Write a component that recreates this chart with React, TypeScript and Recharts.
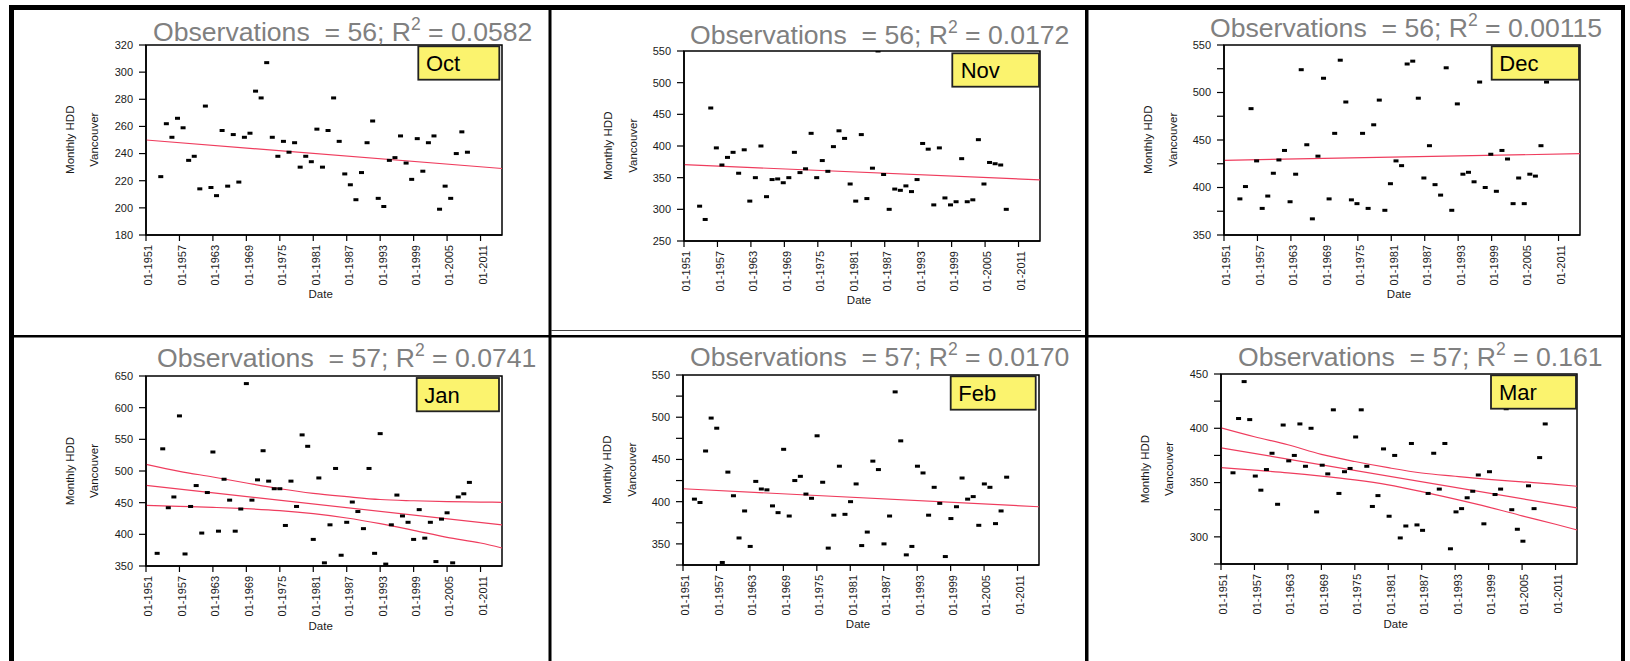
import React from 'react';
import { ComposedChart, Scatter, Line, XAxis, YAxis, ReferenceArea } from 'recharts';

const FONT = '"Liberation Sans", Arial, Helvetica, sans-serif';
const RED = '#ef3d5e';

// ---------- data ----------
const xTickYears = [1951, 1957, 1963, 1969, 1975, 1981, 1987, 1993, 1999, 2005, 2011];
const xDomain: [number, number] = [1951, 2014.85];

// Monthly HDD Vancouver, October 1953-2008
const octValues = [223, 262, 252, 266, 259, 235, 238, 214, 275, 215, 209, 257, 216, 254, 219, 252, 255, 286, 281, 307, 252, 238, 249, 241, 248, 230, 238, 234, 258, 230, 257, 281, 249, 225, 217, 206, 226, 248, 264, 207, 201, 235, 237, 253, 233, 221, 251, 227, 248, 253, 199, 216, 207, 240, 256, 241];
// November 1953-2008
const novValues = [305, 284, 460, 397, 370, 382, 390, 357, 394, 313, 350, 400, 320, 347, 348, 342, 350, 390, 358, 364, 420, 350, 377, 360, 399, 424, 412, 340, 313, 418, 317, 365, 550, 355, 300, 332, 330, 337, 328, 347, 404, 395, 307, 397, 318, 307, 312, 380, 312, 315, 410, 340, 374, 372, 370, 300];
// December 1953-2008
const decValues = [388, 401, 483, 428, 378, 391, 415, 429, 439, 385, 414, 524, 445, 367, 433, 515, 388, 457, 534, 490, 387, 383, 457, 378, 466, 492, 376, 404, 428, 423, 530, 533, 494, 410, 444, 403, 392, 526, 376, 488, 414, 416, 406, 511, 400, 435, 396, 439, 430, 383, 410, 383, 414, 412, 444, 511];
// January 1953-2009
const janValues = [370, 535, 442, 459, 587, 369, 444, 477, 402, 466, 530, 405, 487, 454, 405, 440, 638, 454, 486, 532, 484, 472, 472, 414, 484, 444, 557, 539, 392, 489, 355, 415, 504, 367, 419, 451, 436, 409, 504, 370, 559, 353, 415, 462, 429, 419, 392, 439, 394, 419, 357, 424, 434, 355, 459, 464, 482];
// February 1953-2009
const febValues = [403, 399, 460, 499, 487, 328, 435, 407, 357, 389, 347, 424, 415, 414, 395, 387, 462, 383, 425, 430, 409, 404, 478, 423, 345, 384, 442, 385, 400, 421, 348, 364, 448, 438, 350, 383, 530, 472, 337, 347, 442, 434, 384, 417, 398, 335, 380, 394, 428, 403, 406, 372, 421, 417, 374, 389, 429];
// March 1953-2009
const marValues = [359, 409, 443, 408, 356, 343, 362, 377, 330, 403, 370, 375, 404, 365, 400, 323, 366, 358, 417, 340, 360, 363, 392, 417, 365, 328, 338, 381, 319, 375, 299, 310, 386, 311, 306, 340, 377, 344, 386, 289, 323, 326, 336, 342, 357, 312, 360, 339, 344, 418, 325, 307, 296, 347, 326, 373, 404];

// fitted lines (end points)
const fitYears = [1951, 2014.85];
const octFit = [250, 229];
const novFit = [370.5, 346.5];
const decFit = [428.6, 435.6];
const febFit = [415.3, 394];
const janFit = [477.4, 414.8];
const marFit = [382, 326.6];

// confidence bands
const bandYears = [1951, 1957, 1963, 1969, 1975, 1981, 1987, 1993, 1999, 2005, 2011, 2014.85];
const janUpper = [510.5, 499.5, 490.5, 481, 472, 464.7, 459.5, 455, 453, 451.6, 451, 450.5];
const janLower = [445.8, 444.3, 442.6, 440.5, 437.4, 432.6, 425.8, 416.8, 406.3, 395.3, 386.3, 378.4];
const marUpper = [400.4, 392.2, 384.8, 376, 369.4, 363.7, 358.8, 355.8, 353, 350.7, 348.4, 346.6];
const marLower = [363.7, 361.4, 359, 356, 352.4, 347.8, 341.6, 334.7, 327.4, 319.4, 311.6, 306.4];

// y axes
const octYTicks = [180, 200, 220, 240, 260, 280, 300, 320];
const novYTicks = [250, 300, 350, 400, 450, 500, 550];
const decYTicks = [350, 375, 400, 425, 450, 475, 500, 525, 550];
const janYTicks = [350, 400, 450, 500, 550, 600, 650];
const febYTicks = [325, 350, 375, 400, 425, 450, 475, 500, 525, 550];
const marYTicks = [275, 300, 325, 350, 375, 400, 425, 450];
const octYLabels = octYTicks;
const novYLabels = novYTicks;
const decYLabels = [350, 400, 450, 500, 550];
const janYLabels = janYTicks;
const febYLabels = [350, 400, 450, 500, 550];
const marYLabels = [300, 350, 400, 450];

const months = ['Oct', 'Nov', 'Dec', 'Jan', 'Feb', 'Mar'];
const observations = [56, 56, 56, 57, 57, 57];
const r2Values = ['0.0582', '0.0172', '0.00115', '0.0741', '0.0170', '0.161'];

// ---------- layout ----------
const YW = 110;
const MT = 10;
const MR = 10;
const XH = 72;
const PLOT_W = 356;
const PLOT_H = 190;

type Series = { xs: number[]; ys: number[]; curved?: boolean };
type Cfg = {
  values: number[];
  firstYear: number;
  monthPos: number;
  yDomain: [number, number];
  yTicks: number[];
  yLabels: number[];
  lines: Series[];
  plotLeft: number;
  plotTop: number;
  titleX: number;
  titleY: number;
  box: { x: number; y: number; w: number; h: number; tx: number };
};

const panels: Cfg[] = [
  { values: octValues, firstYear: 1953, monthPos: 0.65, yDomain: [180, 320], yTicks: octYTicks, yLabels: octYLabels,
    lines: [{ xs: fitYears, ys: octFit }], plotLeft: 145.7, plotTop: 44.7, titleX: 153, titleY: 40.5,
    box: { x: 418.3, y: 46.3, w: 81, h: 33.4, tx: 426 } },
  { values: novValues, firstYear: 1953, monthPos: 0.8, yDomain: [250, 550], yTicks: novYTicks, yLabels: novYLabels,
    lines: [{ xs: fitYears, ys: novFit }], plotLeft: 684, plotTop: 50.7, titleX: 690, titleY: 44,
    box: { x: 952.3, y: 53.3, w: 86.7, h: 33.4, tx: 960.7 } },
  { values: decValues, firstYear: 1953, monthPos: 0.85, yDomain: [350, 550], yTicks: decYTicks, yLabels: decYLabels,
    lines: [{ xs: fitYears, ys: decFit }], plotLeft: 1224, plotTop: 44.7, titleX: 1210, titleY: 37,
    box: { x: 1491.7, y: 46.3, w: 87.3, h: 33.4, tx: 1499.3 } },
  { values: janValues, firstYear: 1953, monthPos: 0.0, yDomain: [350, 650], yTicks: janYTicks, yLabels: janYLabels,
    lines: [{ xs: fitYears, ys: janFit }, { xs: bandYears, ys: janUpper, curved: true }, { xs: bandYears, ys: janLower, curved: true }],
    plotLeft: 145.7, plotTop: 376, titleX: 157, titleY: 366.5,
    box: { x: 416.7, y: 378, w: 82.3, h: 33.3, tx: 424.3 } },
  { values: febValues, firstYear: 1953, monthPos: 0.05, yDomain: [325, 550], yTicks: febYTicks, yLabels: febYLabels,
    lines: [{ xs: fitYears, ys: febFit }], plotLeft: 683, plotTop: 374.7, titleX: 690, titleY: 366,
    box: { x: 950.7, y: 376.3, w: 85, h: 33.4, tx: 958.3 } },
  { values: marValues, firstYear: 1953, monthPos: 0.15, yDomain: [275, 450], yTicks: marYTicks, yLabels: marYLabels,
    lines: [{ xs: fitYears, ys: marFit }, { xs: bandYears, ys: marUpper, curved: true }, { xs: bandYears, ys: marLower, curved: true }],
    plotLeft: 1220.7, plotTop: 374, titleX: 1238, titleY: 366,
    box: { x: 1491, y: 375.3, w: 85, h: 33.4, tx: 1499 } },
];

const Mark = (props: any) => {
  const { cx, cy } = props;
  if (cx == null || cy == null) return <g />;
  return <rect x={cx - 2.5} y={cy - 1.5} width={5} height={3} fill="#000" />;
};

const XTick = (props: any) => {
  const { x, y, payload } = props;
  return (
    <text x={x} y={y} dy="0.58em" transform={`rotate(-90, ${x}, ${y})`} textAnchor="end"
      fontSize={11} fill="#1a1a1a" fontFamily={FONT}>{`01-${payload.value}`}</text>
  );
};

function Panel({ cfg }: { cfg: Cfg }) {
  const pts = cfg.values.map((v, i) => ({ x: cfg.firstYear + i + cfg.monthPos, y: v }));
  const W = YW + PLOT_W + MR;
  const H = MT + PLOT_H + XH;
  return (
    <div style={{ position: 'absolute', left: cfg.plotLeft - YW, top: cfg.plotTop - MT, width: W, height: H }}>
      <ComposedChart width={W} height={H} data={pts} margin={{ top: MT, right: MR, bottom: 0, left: 0 }}>
        <XAxis type="number" dataKey="x" domain={xDomain} ticks={xTickYears} interval={0} allowDataOverflow
          height={XH} tickSize={6} tickMargin={4} tick={<XTick />}
          axisLine={{ stroke: '#000', strokeWidth: 1.5 }} tickLine={{ stroke: '#000', strokeWidth: 1.2 }} />
        <YAxis type="number" dataKey="y" domain={cfg.yDomain} ticks={cfg.yTicks} interval={0} allowDataOverflow
          width={YW} tickSize={7} tickMargin={6}
          tickFormatter={(v: number) => (cfg.yLabels.includes(v) ? String(v) : '')}
          tick={{ fontSize: 11, fill: '#1a1a1a', fontFamily: FONT }}
          axisLine={{ stroke: '#000', strokeWidth: 1.5 }} tickLine={{ stroke: '#000', strokeWidth: 1.2 }} />
        <ReferenceArea x1={xDomain[0]} x2={xDomain[1]} y1={cfg.yDomain[0]} y2={cfg.yDomain[1]}
          fill="none" fillOpacity={0} stroke="#000" strokeWidth={1.5} />
        {cfg.lines.map((ln, k) => (
          <Line key={k} data={ln.xs.map((x, j) => ({ x, y: ln.ys[j] }))} dataKey="y"
            type={ln.curved ? 'monotone' : 'linear'} stroke={RED} strokeWidth={1.2}
            dot={false} activeDot={false} isAnimationActive={false} />
        ))}
        <Scatter dataKey="y" shape={Mark} isAnimationActive={false} />
      </ComposedChart>
    </div>
  );
}

export default function App() {
  return (
    <div style={{ position: 'absolute', left: 0, top: 0, width: 1630, height: 661, background: '#fff', overflow: 'hidden', fontFamily: FONT }}>
      {panels.map((p, i) => <Panel key={i} cfg={p} />)}
      <svg width={1630} height={661} style={{ position: 'absolute', left: 0, top: 0, pointerEvents: 'none' }}>
        {/* frame */}
        <rect x={9} y={5} width={1616} height={5} fill="#000" />
        <rect x={9} y={5} width={5} height={656} fill="#000" />
        <rect x={1621} y={5} width={4} height={656} fill="#000" />
        <rect x={548.5} y={5} width={3} height={656} fill="#000" />
        <rect x={1085} y={5} width={3.5} height={656} fill="#000" />
        <rect x={9} y={335} width={1616} height={2.5} fill="#000" />
        <rect x={551} y={330} width={530} height={1} fill="#444" />
        {panels.map((p, i) => {
          const cy = p.plotTop + PLOT_H / 2;
          const x1 = p.plotLeft - 75.5;
          const x2 = p.plotLeft - 51.3;
          return (
            <g key={i} fontFamily={FONT}>
              <text x={p.titleX} y={p.titleY} fontSize={26.6} fill="#808080" xmlSpace="preserve" style={{ whiteSpace: 'pre' }}>
                {`Observations  = ${observations[i]}; R`}
                <tspan fontSize={17.5} dy={-11}>2</tspan>
                <tspan dy={11}>{` = ${r2Values[i]}`}</tspan>
              </text>
              <text x={x1} y={cy} transform={`rotate(-90, ${x1}, ${cy})`} textAnchor="middle" dominantBaseline="central" fontSize={11.5} fill="#1a1a1a">Monthly HDD</text>
              <text x={x2} y={cy} transform={`rotate(-90, ${x2}, ${cy})`} textAnchor="middle" dominantBaseline="central" fontSize={11.5} fill="#1a1a1a">Vancouver</text>
              <text x={p.plotLeft + PLOT_W / 2 - 3} y={p.plotTop + PLOT_H + 63.5} textAnchor="middle" fontSize={11.5} fill="#1a1a1a">Date</text>
              <rect x={p.box.x} y={p.box.y} width={p.box.w} height={p.box.h} fill="#fbf36e" stroke="#222" strokeWidth={1.8} />
              <text x={p.box.tx} y={p.box.y + 25} fontSize={22} fill="#000">{months[i]}</text>
            </g>
          );
        })}
      </svg>
    </div>
  );
}
